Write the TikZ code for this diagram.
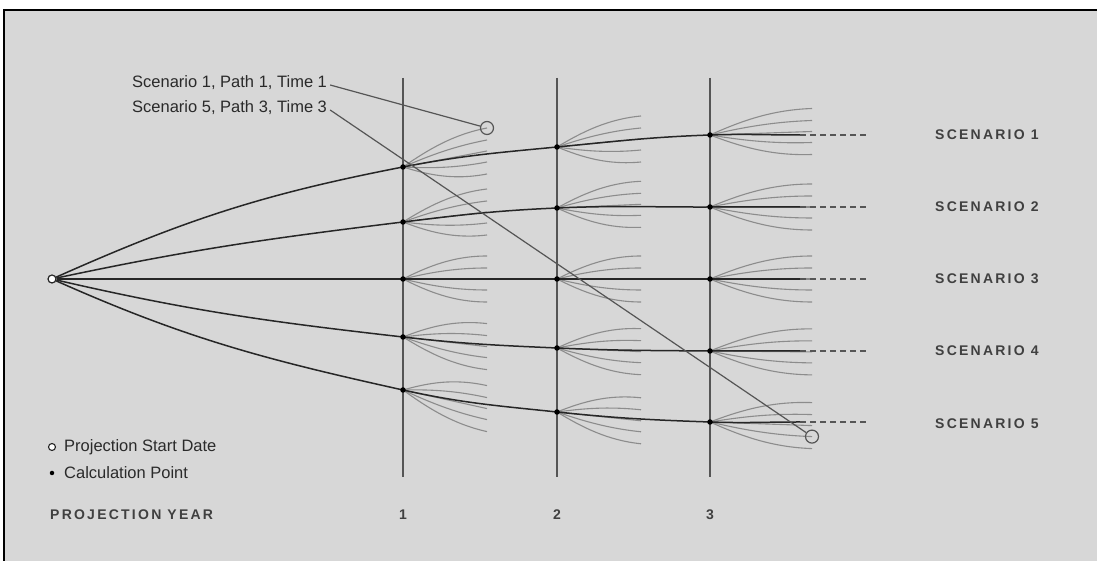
\documentclass[tikz,border=0pt]{standalone}
\usepackage{fontspec}
\setmainfont{Liberation Sans}
\newfontfamily\capsfont[LetterSpace=16]{Liberation Sans}
\usetikzlibrary{calc}

\definecolor{panel}{HTML}{D7D7D7}
\definecolor{ink}{HTML}{262626}
\definecolor{rulegray}{HTML}{555555}
\definecolor{branch}{HTML}{8C8C8C}
\definecolor{txt}{HTML}{2A2A2A}
\definecolor{captxt}{HTML}{404040}

\begin{document}
\begin{tikzpicture}[x=1pt,y=1pt,
  scen/.style={draw=ink, line width=1.5pt},
  tail/.style={draw=rulegray, line width=1.5pt, dash pattern=on 6pt off 4pt},
  fan/.style={draw=branch, line width=1.1pt},
  yearline/.style={draw=rulegray, line width=1.3pt},
  pointer/.style={draw=rulegray, line width=1.2pt},
  calcpt/.style={circle, fill=black, inner sep=0pt, minimum size=5.5pt},
  startpt/.style={circle, draw=ink, fill=white, line width=1.2pt, inner sep=0pt, minimum size=8pt},
  markring/.style={circle, draw=rulegray, line width=1.2pt, inner sep=0pt, minimum size=13pt},
  plain/.style={text=txt, inner sep=3pt, font=\fontsize{16.5}{18}\selectfont},
  caps/.style={text=captxt, inner sep=3pt, font=\capsfont\bfseries\fontsize{14}{16}\selectfont}
]
\useasboundingbox (0,0) rectangle (1097,561);
\fill[white] (0,0) rectangle (1097,561);
\fill[panel] (4,0) rectangle (1097,551);
\draw[black, line width=1.8pt] (4,0) -- (4,551) -- (1097,551);

% calculation points per scenario (a..e) and projection year (1..3)
\coordinate (a1) at (403,394); \coordinate (a2) at (557,414); \coordinate (a3) at (710,426);
\coordinate (b1) at (403,339); \coordinate (b2) at (557,353); \coordinate (b3) at (710,354);
\coordinate (c1) at (403,282); \coordinate (c2) at (557,282); \coordinate (c3) at (710,282);
\coordinate (d1) at (403,224); \coordinate (d2) at (557,213); \coordinate (d3) at (710,210);
\coordinate (e1) at (403,171); \coordinate (e2) at (557,149); \coordinate (e3) at (710,139);
% ends of the solid and dashed tails
\coordinate (a4) at (800,426); \coordinate (a5) at (867,426);
\coordinate (b4) at (800,354); \coordinate (b5) at (867,354);
\coordinate (c4) at (800,282); \coordinate (c5) at (867,282);
\coordinate (d4) at (800,210); \coordinate (d5) at (867,210);
\coordinate (e4) at (800,139); \coordinate (e5) at (867,139);
% year lines
\coordinate (y1t) at (403,483); \coordinate (y1b) at (403,84);
\coordinate (y2t) at (557,483); \coordinate (y2b) at (557,84);
\coordinate (y3t) at (710,483); \coordinate (y3b) at (710,84);

% fans of paths leaving every calculation point
\foreach \p/\r/\L in {a1/16/84, a2/8/84, a3/3.5/102,
                      b1/10/84, b2/3.7/84, b3/0/102,
                      c1/0/84, c2/0/84, c3/0/102,
                      d1/-9.6/84, d2/-3.7/84, d3/-0.9/102,
                      e1/-18.6/84, e2/-8.8/84, e3/-3.6/102}
  \foreach \s in {-23,-11,0,11,23}
    \draw[fan] (\p) .. controls ($(\p)+(0.3*\L,0.3*\r+0.55*\s)$)
                     and ($(\p)+(0.6*\L,0.6*\r+\s)$) .. ($(\p)+(\L,\r+\s)$);

% projection year lines
\draw[yearline] (y1t) -- (y1b);
\draw[yearline] (y2t) -- (y2b);
\draw[yearline] (y3t) -- (y3b);

% projection start
\node[startpt] (o) at (52,282) {};

% scenario curves
\draw[scen] (o) to[out=24,in=191] (a1) to[out=11,in=185.5] (a2)
  to[out=5.5,in=182] (a3) to[out=2,in=180] (a4);
\draw[scen] (o) to[out=12,in=187] (b1) to[out=7,in=182.5] (b2)
  to[out=2.5,in=180.2] (b3) -- (b4);
\draw[scen] (o) -- (c1) -- (c2) -- (c3) -- (c4);
\draw[scen] (o) to[out=-13,in=173.5] (d1) to[out=-6.5,in=177.5] (d2)
  to[out=-2.5,in=179.5] (d3) -- (d4);
\draw[scen] (o) to[out=-24,in=167.5] (e1) to[out=-12.5,in=174] (e2)
  to[out=-6,in=178] (e3) to[out=-2,in=180] (e4);
\foreach \q in {a,b,c,d,e}
  \draw[tail] (\q4) -- (\q5);

% calculation points
\foreach \q in {a,b,c,d,e}
  \foreach \n in {1,2,3}
    \node[calcpt] (\q\n dot) at (\q\n) {};

% highlighted paths and their labels
\node[markring] (k1) at (487,433) {};
\node[markring] (k2) at (812,124.4) {};
\node[plain, anchor=west] (t1) at (129,478) {Scenario 1, Path 1, Time 1};
\node[plain, anchor=west] (t2) at (129,453) {Scenario 5, Path 3, Time 3};
\draw[pointer] ([yshift=-2pt]t1.east) -- (k1);
\draw[pointer] ([yshift=-2pt]t2.east) -- (k2);

% scenario names
\node[caps, anchor=west] (s1) at (932,426) {SCENARIO 1};
\node[caps, anchor=west] (s2) at (932,354) {SCENARIO 2};
\node[caps, anchor=west] (s3) at (932,282) {SCENARIO 3};
\node[caps, anchor=west] (s4) at (932,210) {SCENARIO 4};
\node[caps, anchor=west] (s5) at (932,137) {SCENARIO 5};

% legend
\node[startpt, minimum size=7pt, line width=1.1pt] (lg1) at (52,114) {};
\node[plain, anchor=west] (lg1t) at (61,114) {Projection Start Date};
\node[calcpt, minimum size=4.5pt] (lg2) at (52,88) {};
\node[plain, anchor=west] (lg2t) at (61,88) {Calculation Point};

% axis
\node[caps, anchor=west] (ax) at (47,46) {PROJECTION YEAR};
\node[caps] (n1) at (403,46) {1};
\node[caps] (n2) at (557,46) {2};
\node[caps] (n3) at (710,46) {3};
\end{tikzpicture}
\end{document}
